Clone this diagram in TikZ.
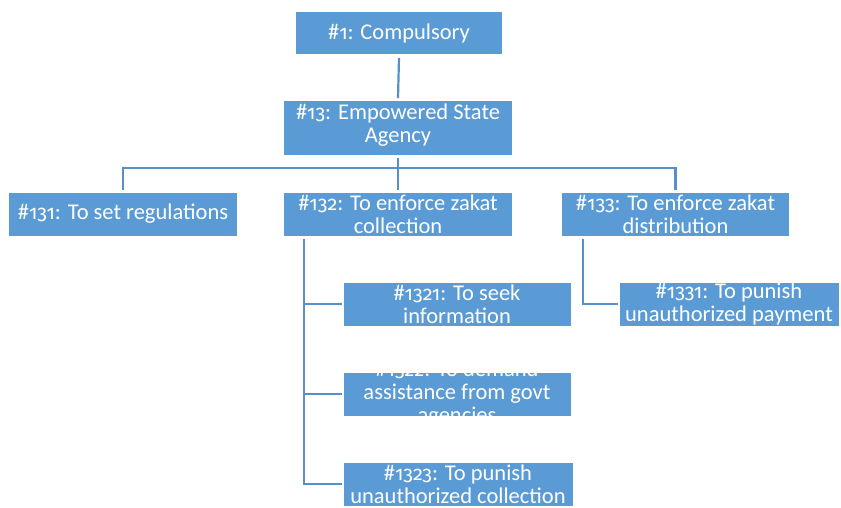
\documentclass[tikz,border=0pt]{standalone}
\usepackage{fontspec}
\setmainfont{Carlito}
% old-style figures for the item numbers
\newfontfamily\osf{Fira Sans}[Numbers=OldStyle, Scale=0.88]
\newcommand{\num}[1]{{\osf #1}}
\begin{document}
\begin{tikzpicture}[x=1pt,y=-1pt,
  box/.style={draw=white, line width=0.8pt, fill=boxblue, rectangle,
    inner sep=0pt, minimum width=#1, minimum height=44pt},
  box/.default=229pt,
  label/.style={text=white, align=center, inner sep=0pt,
    font=\fontsize{22.5pt}{23pt}\selectfont},
  link/.style={draw=linkblue, line width=2.2pt}]
\definecolor{boxblue}{HTML}{5B9BD5}
\definecolor{linkblue}{HTML}{5590CC}
\useasboundingbox (0,0) rectangle (841,508);

% boxes
\node[box=207pt, minimum height=43pt] (n1) at (399,33) {};
\node[box=229pt, minimum height=55pt] (n13) at (398,128) {};
\node[box] (n131) at (123,214) {};
\node[box] (n132) at (398,214) {};
\node[box=228pt] (n133) at (675.5,214) {};
\node[box=228pt] (n1321) at (457,304) {};
\node[box=228pt] (n1322) at (457,394) {};
\node[box=230pt] (n1323) at (458,484) {};
\node[box=220pt] (n1331) at (729,304) {};

% texts
\node[label] at ([yshift=-1pt]n1) {\#\num{1}: Compulsory};
\node[label] at ([yshift=3pt]n13) {\#\num{13}: Empowered State\\Agency};
\node[label] at (n131) {\#\num{131}: To set regulations};
\node[label] at (n132) {\#\num{132}: To enforce zakat\\collection};
\node[label] at (n133) {\#\num{133}: To enforce zakat\\distribution};
\node[label] at (n1321) {\#\num{1321}: To seek\\information};
\node[label] at (n1322) {\#\num{1322}: To demand\\assistance from govt\\agencies};
\node[label] at (n1323) {\#\num{1323}: To punish\\unauthorized collection};
\node[label] at (n1331) {\#\num{1331}: To punish\\unauthorized payment};

% connectors
\coordinate (bus) at (398,168);
\draw[link] ([yshift=-3pt]n1.south) -- ([yshift=2pt]n13.north);
\draw[link] ([yshift=-2pt]n13.south) -- (bus);
\draw[link] ([yshift=2pt]n131.north) |- (bus) -| ([yshift=2pt]n133.north);
\draw[link] (bus) -- ([yshift=2pt]n132.north);

\coordinate (s132) at ([xshift=21pt,yshift=-3pt]n132.south west);
\draw[link] (s132) |- ([xshift=-1pt]n1323.west);
\draw[link] (s132 |- n1321.west) -- ([xshift=-1pt]n1321.west);
\draw[link] (s132 |- n1322.west) -- ([xshift=-1pt]n1322.west);

\coordinate (s133) at ([xshift=22pt,yshift=-3pt]n133.south west);
\draw[link] (s133) |- ([xshift=-1pt]n1331.west);
\end{tikzpicture}
\end{document}
